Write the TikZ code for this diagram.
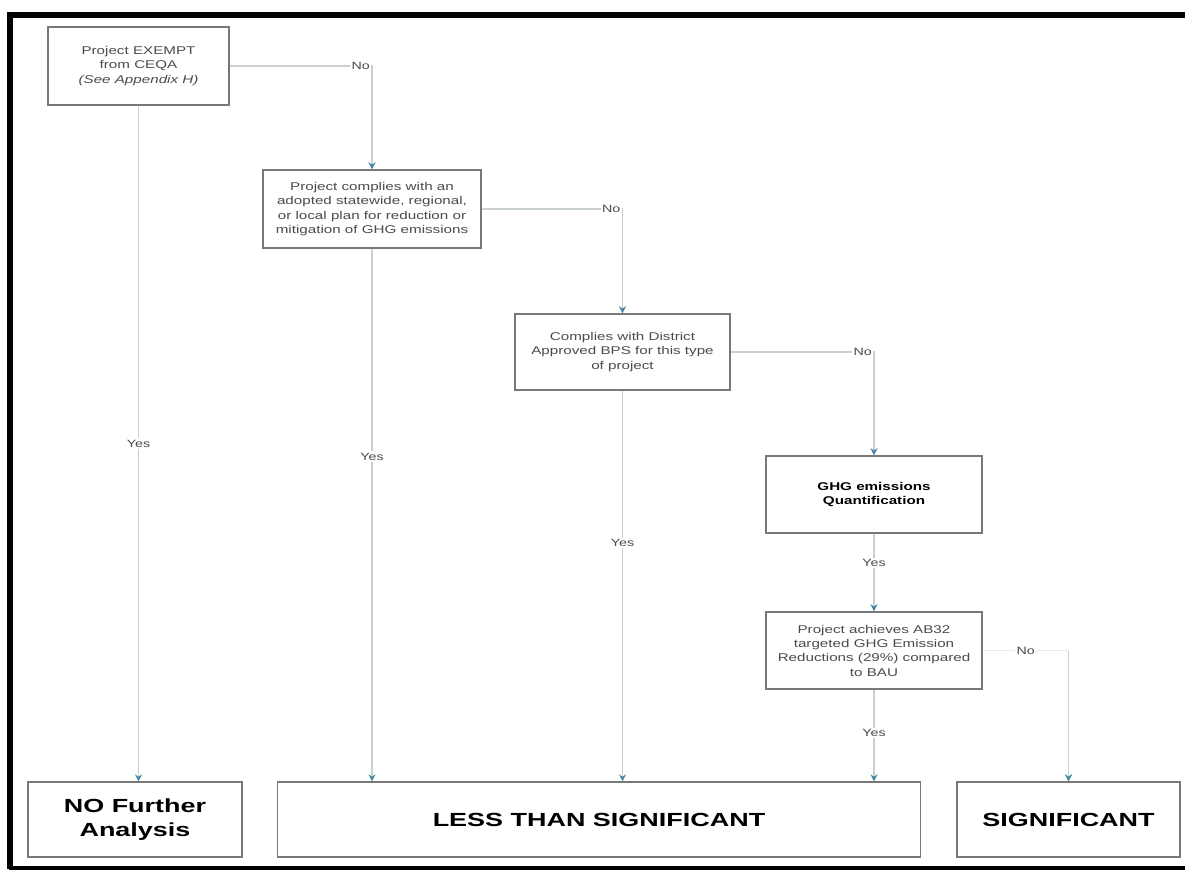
\documentclass[tikz,border=0pt]{standalone}
\usepackage{fontspec}
\setmainfont{Liberation Sans}
\newfontfamily\scanfont[FakeStretch=1.35]{Liberation Sans}
\newfontfamily\widefont[FakeStretch=1.42]{Liberation Sans}
\usepackage{tikz}
\usetikzlibrary{arrows.meta}
\definecolor{linegray}{RGB}{200,208,212}
\definecolor{tipblue}{RGB}{70,135,165}
\definecolor{boxgray}{RGB}{120,120,120}
\definecolor{txtgray}{RGB}{75,75,75}

\begin{document}
\begin{tikzpicture}[x=0.025cm,y=-0.025cm,
    >={Stealth[length=5pt,width=5pt,color=tipblue]},
    flow/.style={->,draw=linegray,line width=1pt},
    test box/.style={rectangle,draw=boxgray,line width=1pt,align=center,
                     text=txtgray,font=\scanfont\fontsize{8}{10.2}\selectfont},
    end box/.style={rectangle,draw=boxgray,line width=0.8pt,align=center,
                    minimum height=1.875cm,font=\widefont\fontsize{13.5}{17}\selectfont\bfseries},
    answer/.style={fill=white,text=txtgray,inner sep=1pt,
                   font=\scanfont\fontsize{7.5}{9}\selectfont}]

  \useasboundingbox (0,0) rectangle (1185,873);
  \fill[white] (0,0) rectangle (1185,873);

  % frame
  \draw[line width=4pt] (1185,15) -- (10,15) -- (10,869);
  \draw[line width=2.5pt] (9,868) -- (1185,868);

  % decision boxes
  \node[test box,minimum width=4.525cm,minimum height=1.95cm] (exempt) at (138.5,66)
    {Project EXEMPT\\from CEQA\\\textit{(See Appendix H)}};
  \node[test box,minimum width=5.45cm,minimum height=1.95cm] (plan) at (372,209)
    {Project complies with an\\adopted statewide, regional,\\or local plan for reduction or\\mitigation of GHG emissions};
  \node[test box,minimum width=5.375cm,minimum height=1.9cm] (bps) at (622.5,352)
    {Complies with District\\Approved BPS for this type\\of project};
  \node[test box,minimum width=5.4cm,minimum height=1.925cm,text=black,
        font=\scanfont\fontsize{8}{10.2}\selectfont\bfseries] (quant) at (874,494.5)
    {GHG emissions\\Quantification};
  \node[test box,minimum width=5.4cm,minimum height=1.925cm] (achieve) at (874,650.5)
    {Project achieves AB32\\targeted GHG Emission\\Reductions (29\%) compared\\to BAU};

  % outcome boxes
  \node[end box,minimum width=5.35cm] (nofurther) at (135,819.5) {NO Further\\Analysis};
  \node[end box,minimum width=16.05cm] (lts) at (599,819.5) {LESS THAN SIGNIFICANT};
  \node[end box,minimum width=5.575cm] (sig) at (1068.5,819.5) {SIGNIFICANT};

  % yes branches
  \draw[flow] (exempt.south) -- node[answer,pos=0.5] {Yes} (exempt.south |- nofurther.north);
  \draw[flow] (plan.south) -- node[answer,pos=0.39] {Yes} (plan.south |- lts.north);
  \draw[flow] (bps.south) -- node[answer,pos=0.39] {Yes} (bps.south |- lts.north);
  \draw[flow] (quant.south) -- node[answer,pos=0.38] {Yes} (achieve.north);
  \draw[flow] (achieve.south) -- node[answer,pos=0.47] {Yes} (achieve.south |- lts.north);

  % no branches
  \draw[flow] (exempt.east) -| node[answer,pos=0.5,anchor=east] {No} (plan.north);
  \draw[flow] (plan.east) -| node[answer,pos=0.5,anchor=east] {No} (bps.north);
  \draw[flow] (bps.east) -| node[answer,pos=0.5,anchor=east] {No} (quant.north);
  \draw[flow,draw=linegray!40] (achieve.east) -| node[answer,pos=0.25] {No} (sig.north);
  \draw[flow] (sig.north |- achieve.east) -- (sig.north);
\end{tikzpicture}
\end{document}
